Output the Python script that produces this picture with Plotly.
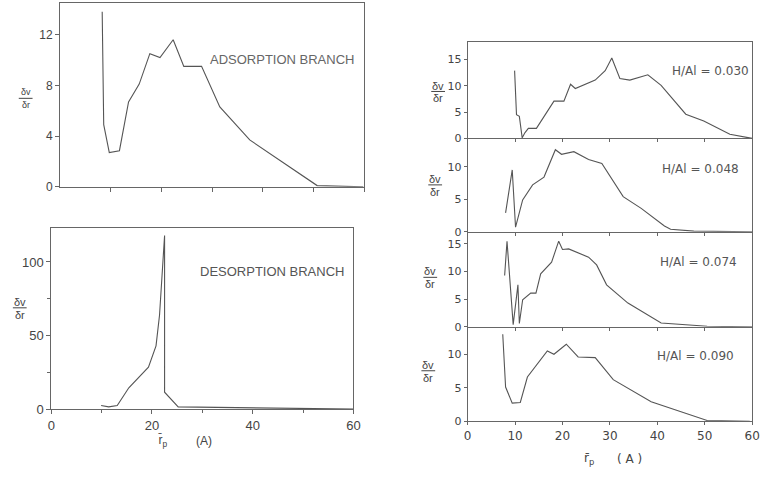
import plotly.graph_objects as go

# ---- data ----
ads_r = [8.3, 8.6, 9.7, 11.7, 13.5, 15.6, 17.7, 19.7, 22.3, 24.4, 27.9, 31.5, 37.4, 45.2, 50.7, 59.8]
ads_v = [13.8, 4.9, 2.7, 2.85, 6.7, 8.1, 10.5, 10.2, 11.6, 9.5, 9.5, 6.3, 3.7, 1.6, 0.1, 0.0]

des_r = [9.9, 11.4, 13.1, 15.4, 19.3, 20.8, 21.5, 22.5, 22.5, 25.2, 60]
des_v = [2.5, 1.5, 2.5, 14.5, 28.5, 43, 64, 118, 11.5, 1.5, 0]

r030 = [9.9, 10.3, 10.9, 11.5, 12.1, 12.8, 14.5, 18.2, 20.3, 21.7, 22.7, 26.9, 29.0, 30.4, 32.1, 34.2, 38.0, 40.8, 46.0, 49.8, 55.3, 58.5, 60]
v030 = [12.9, 4.5, 4.2, 0.1, 1.1, 1.9, 1.9, 7.1, 7.1, 10.3, 9.5, 11.1, 12.9, 15.3, 11.4, 11.1, 12.1, 10.1, 4.6, 3.3, 0.8, 0.2, 0]

r048 = [8.0, 9.4, 10.1, 11.6, 13.7, 16.1, 18.5, 19.8, 22.4, 25.5, 28.3, 32.8, 36.6, 41.5, 42.8, 47.7, 60]
v048 = [2.9, 9.5, 0.7, 4.9, 7.2, 8.4, 12.6, 11.9, 12.3, 11.1, 10.5, 5.4, 3.6, 0.9, 0.4, 0.1, 0]

r074 = [7.8, 8.3, 9.6, 10.6, 10.9, 11.6, 13.3, 14.4, 15.4, 17.7, 19.2, 20.0, 21.3, 25.5, 27.2, 29.3, 33.8, 40.8, 50.5, 60]
v074 = [9.3, 15.5, 0.4, 7.6, 0.6, 4.9, 6.1, 6.1, 9.6, 11.7, 15.5, 14.0, 14.1, 12.6, 11.2, 7.6, 4.3, 0.7, 0.1, 0]

r090 = [7.4, 8.0, 9.4, 11.1, 12.6, 16.8, 18.2, 20.8, 23.3, 26.9, 30.7, 38.7, 50.5, 59.5]
v090 = [13.0, 5.1, 2.7, 2.8, 6.6, 10.5, 10.0, 11.5, 9.6, 9.5, 6.2, 2.9, 0.1, 0]

labels_right = ["H/Al = 0.030", "H/Al = 0.048", "H/Al = 0.074", "H/Al = 0.090"]

W, H = 770, 483
LINE = "#555555"
TXT = "#444444"
FONT_L = "Liberation Sans"
FONT_R = "DejaVu Sans"

def px(x):
    return x / W

def py(y):
    return 1 - y / H

fig = go.Figure()

def add(r, v, i):
    xa = "x" if i == 1 else f"x{i}"
    ya = "y" if i == 1 else f"y{i}"
    fig.add_trace(go.Scatter(x=r, y=v, mode="lines", xaxis=xa, yaxis=ya,
                             line=dict(color=LINE, width=1.1), showlegend=False,
                             hoverinfo="skip"))

add(ads_r, ads_v, 1)
add(des_r, des_v, 2)
add(r030, v030, 3)
add(r048, v048, 4)
add(r074, v074, 5)
add(r090, v090, 6)

axis_common = dict(showgrid=False, zeroline=False, showline=True, linecolor="#666666",
                   linewidth=1, ticks="outside", ticklen=4, tickcolor="#666666",
                   ticklabeloverflow="allow")

layout = dict(width=W, height=H, margin=dict(l=0, r=0, t=0, b=0), autosize=False,
              paper_bgcolor="white", plot_bgcolor="white",
              font=dict(family=FONT_L, color=TXT))

# top-left
layout["xaxis"] = dict(axis_common, domain=[px(57), px(366)], range=[0, 60], anchor="y",
                       tickvals=[10, 20, 30, 40, 50, 60], showticklabels=False, mirror=True)
layout["yaxis"] = dict(axis_common, domain=[py(190), py(3)], range=[0, 14.5], anchor="x",
                       tickvals=[0, 4, 8, 12], mirror=True, tickfont=dict(size=12, color=TXT))
# bottom-left
layout["xaxis2"] = dict(axis_common, domain=[px(48), px(355)], range=[0, 60], anchor="y2",
                        tick0=0, dtick=20,
                        minor=dict(tick0=0, dtick=10, ticks="outside", ticklen=3,
                                   tickcolor="#666666", showgrid=False),
                        mirror=True, tickfont=dict(size=13, color=TXT))
layout["yaxis2"] = dict(axis_common, domain=[py(416), py(232)], range=[0, 123], anchor="x2",
                        tick0=0, dtick=50,
                        minor=dict(tick0=0, dtick=25, ticks="outside", ticklen=3,
                                   tickcolor="#666666", showgrid=False),
                        mirror=True, tickfont=dict(size=13, color=TXT))

# right panels
rdom = [(140.7, 43, 18.3), (235.7, 141, 14.3), (332.3, 235.7, 17.2), (428.3, 332.3, 14.1)]
ytv = [[0, 5, 10, 15], [0, 5, 10], [0, 5, 10, 15], [0, 5, 10]]
for k in range(4):
    i = k + 3
    b, t, top = rdom[k]
    last = (k == 3)
    layout[f"xaxis{i}"] = dict(axis_common, domain=[px(471), px(760)], range=[0, 60],
                               anchor=f"y{i}", ticklen=3,
                               tickvals=[0, 10, 20, 30, 40, 50, 60] if last else [10, 20, 30, 40, 50],
                               showticklabels=last, mirror=(k == 0),
                               tickfont=dict(size=12, family=FONT_R, color=TXT))
    layout[f"yaxis{i}"] = dict(axis_common, domain=[py(b), py(t)], range=[0, top],
                               anchor=f"x{i}", ticklen=3, tickvals=ytv[k], mirror=True,
                               tickfont=dict(size=11, family=FONT_R, color=TXT))

fig.update_layout(**layout)

ann = []
shapes = []

def note(cx, cy, text, size, color=TXT, family=FONT_L):
    ann.append(dict(x=px(cx), y=py(cy), xref="paper", yref="paper", text=text,
                    xanchor="center", yanchor="middle", showarrow=False,
                    font=dict(size=size, color=color, family=family)))

def frac(cx, cy, size=10):
    note(cx, cy - 6, "δv", size)
    note(cx, cy + 7, "δr", size)
    shapes.append(dict(type="line", xref="paper", yref="paper",
                       x0=px(cx - 7), x1=px(cx + 7), y0=py(cy), y1=py(cy),
                       line=dict(color=TXT, width=1)))

frac(22, 100, 9)
frac(16, 313, 11)
frac(441, 93, 11)
frac(438, 188, 11)
frac(433, 282, 11)
frac(431, 377, 11)

note(282, 60, "ADSORPTION BRANCH", 13, "#666666")
note(272, 276, "DESORPTION BRANCH", 13, "#555555")

pos_r = [(718, 72), (708, 172), (705, 266), (702, 362)]
for (cx, cy), lab in zip(pos_r, labels_right):
    note(cx, cy, lab, 12, "#555555", FONT_R)

note(162, 448, "r\u0304<sub>p</sub>", 12)
note(203, 448, "(A)", 12)
note(594, 467, "r\u0304<sub>p</sub>", 12, TXT, FONT_R)
note(635, 467, "( A )", 12, TXT, FONT_R)

fig.update_layout(annotations=ann, shapes=shapes)
fig.write_html("out.html", config={"displayModeBar": False},
               post_script="document.body.style.margin='0';document.body.style.overflow='hidden';")
